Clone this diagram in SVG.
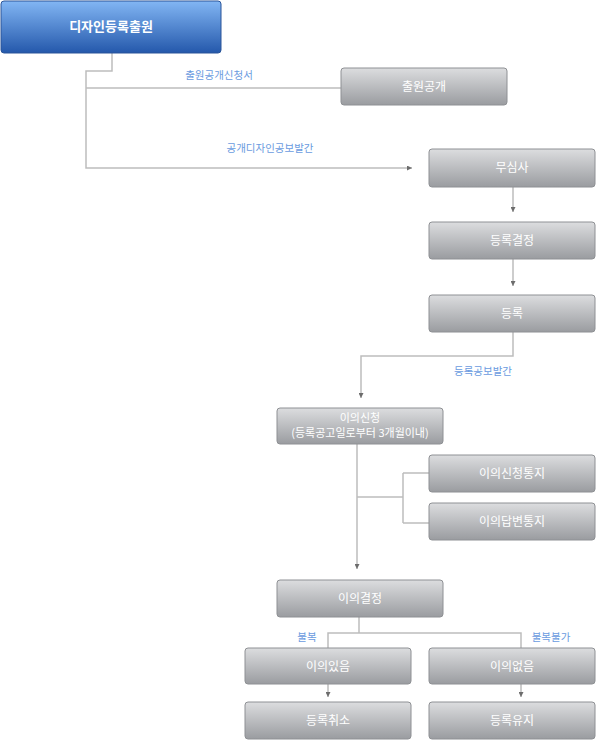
<svg xmlns="http://www.w3.org/2000/svg" width="596" height="740" viewBox="0 0 596 740">
<style>
.box{fill:url(#gray);stroke:#8e9094;stroke-width:1}
.t{font-family:"Noto Sans CJK KR","Noto Sans",sans-serif;font-size:12px;fill:#fff;text-anchor:middle}
.t2{font-family:"Noto Sans CJK KR","Noto Sans",sans-serif;font-size:11px;fill:#fff;text-anchor:middle}
.lbl{font-family:"Noto Sans CJK KR","Noto Sans",sans-serif;font-size:10.5px;fill:#6a9be0;text-anchor:middle}
.ln{fill:none;stroke:#bdbdbd;stroke-width:1.5}
</style>
<defs>
<linearGradient id="gray" x1="0" y1="0" x2="0" y2="1">
<stop offset="0" stop-color="#dcdddf"/>
<stop offset="1" stop-color="#9a9ca0"/>
</linearGradient>
<linearGradient id="blue" x1="0" y1="0" x2="0" y2="1">
<stop offset="0" stop-color="#82b6f4"/>
<stop offset="1" stop-color="#2458ab"/>
</linearGradient>
<marker id="arr" viewBox="0 0 8 8" refX="8" refY="4" markerWidth="5" markerHeight="5" orient="auto" markerUnits="userSpaceOnUse">
<path d="M0,0 L8,4 L0,8 Z" fill="#6c6c6c"/>
</marker>
</defs>
<g id="connectors">
<path class="ln" d="M112,53 V71 H86 V168 H412" marker-end="url(#arr)"/>
<path class="ln" d="M86,88 H341"/>
<path class="ln" d="M513,187 V212" marker-end="url(#arr)"/>
<path class="ln" d="M513,259 V286" marker-end="url(#arr)"/>
<path class="ln" d="M513,332 V356 H361 V398" marker-end="url(#arr)"/>
<path class="ln" d="M357,444 V569" marker-end="url(#arr)"/>
<path class="ln" d="M357,497 H403 M403,473 V523 M403,473 H429 M403,523 H429"/>
<path class="ln" d="M359,617 V633 M328,648 V633 H521 V648"/>
<path class="ln" d="M328,684 V697" marker-end="url(#arr)"/>
<path class="ln" d="M521,684 V697" marker-end="url(#arr)"/>
<text class="lbl" x="219" y="79">출원공개신청서</text>
<text class="lbl" x="270" y="152">공개디자인공보발간</text>
<text class="lbl" x="483" y="375">등록공보발간</text>
<text class="lbl" x="307" y="641">불복</text>
<text class="lbl" x="551" y="641">불복불가</text>
</g>
<g id="n1"><rect x="1" y="1" width="220" height="52" rx="3" fill="url(#blue)" stroke="#2a5599"/><text class="t" x="111" y="31" style="font-size:13px;font-weight:bold">디자인등록출원</text></g>
<g id="n2"><rect class="box" x="341" y="68" width="166" height="37" rx="3"/><text class="t" x="424" y="91">출원공개</text></g>
<g id="n3"><rect class="box" x="429" y="149" width="166" height="38" rx="3"/><text class="t" x="512" y="172">무심사</text></g>
<g id="n4"><rect class="box" x="429" y="222" width="166" height="37" rx="3"/><text class="t" x="512" y="245">등록결정</text></g>
<g id="n5"><rect class="box" x="429" y="295" width="166" height="37" rx="3"/><text class="t" x="512" y="318">등록</text></g>
<g id="n6"><rect class="box" x="277" y="408" width="166" height="36" rx="3"/><text class="t2" x="360" y="422">이의신청</text><text class="t2" x="360" y="437">(등록공고일로부터 3개월이내)</text></g>
<g id="n7"><rect class="box" x="429" y="455" width="166" height="37" rx="3"/><text class="t" x="512" y="478">이의신청통지</text></g>
<g id="n8"><rect class="box" x="429" y="503" width="166" height="37" rx="3"/><text class="t" x="512" y="526">이의답변통지</text></g>
<g id="n9"><rect class="box" x="277" y="580" width="166" height="37" rx="3"/><text class="t" x="360" y="603">이의결정</text></g>
<g id="n10"><rect class="box" x="245" y="648" width="166" height="36" rx="3"/><text class="t" x="328" y="671">이의있음</text></g>
<g id="n11"><rect class="box" x="429" y="648" width="166" height="36" rx="3"/><text class="t" x="512" y="671">이의없음</text></g>
<g id="n12"><rect class="box" x="245" y="702" width="166" height="37" rx="3"/><text class="t" x="328" y="725">등록취소</text></g>
<g id="n13"><rect class="box" x="429" y="702" width="166" height="37" rx="3"/><text class="t" x="512" y="725">등록유지</text></g>
</svg>
